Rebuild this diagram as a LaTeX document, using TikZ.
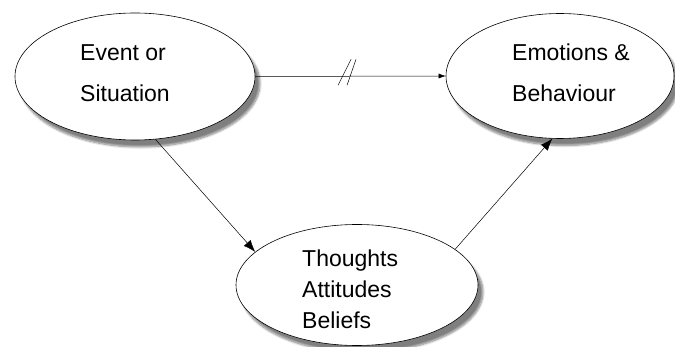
\documentclass[tikz,border=0pt]{standalone}
\usepackage{fontspec}
\setmainfont{Liberation Sans}
\usetikzlibrary{calc,arrows.meta,shapes.geometric,shadows.blur}

\begin{document}
\begin{tikzpicture}[x=1pt,y=-1pt,
    bubble/.style={draw, ellipse, fill=white, line width=.6pt, inner sep=0pt,
      blur shadow={shadow xshift=5pt, shadow yshift=-7pt, shadow opacity=50, shadow blur steps=8}},
    words/.style={anchor=base west, align=left, inner sep=0pt,
      font=\fontsize{23}{41}\selectfont},
    link/.style={line width=.5pt, -{Latex[length=12pt,width=9pt]}}]
          % frame
          \useasboundingbox (0,0) rectangle (675,347);
          % bubbles
          \node (ev) at (135,76.5) [bubble, minimum width=240pt, minimum height=127pt] {};
          \node (emo) at (560,76) [bubble, minimum width=228pt, minimum height=125pt] {};
          \node (tho) at (357,285) [bubble, minimum width=242pt, minimum height=121pt] {};
          \node (evtxt) at (80,102) [words] {Event or\\Situation};
          \node (emotxt) at (512,102) [words] {Emotions \&\\Behaviour};
          \node (thotxt) at (302,329) [words, font=\fontsize{23}{31}\selectfont] {Thoughts\\Attitudes\\Beliefs};
          % links
          \draw[line width=.5pt, -{Latex[length=7pt,width=5pt]}] (ev.east) -- coordinate[pos=.466] (brk) (emo.west);
          \draw[line width=.5pt] ($(brk)+(-6,9)$) -- ($(brk)+(7,-17)$)
                                 ($(brk)+(3,9)$) -- ($(brk)+(12,-17)$);
          \draw[link] (ev.-72) to (tho.162);
          \draw[link] (tho.20) to (emo.-97);
        \end{tikzpicture}
\end{document}
